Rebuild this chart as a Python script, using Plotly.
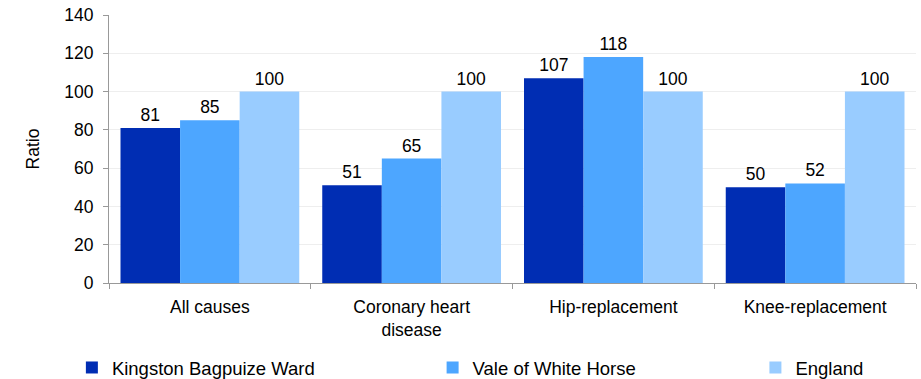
import plotly.graph_objects as go

categories = ["All causes", "Coronary heart<br>disease", "Hip-replacement", "Knee-replacement"]
series_names = ["Kingston Bagpuize Ward", "Vale of White Horse", "England"]
ward_values = [81, 51, 107, 50]
district_values = [85, 65, 118, 52]
england_values = [100, 100, 100, 100]
y_ticks = [0, 20, 40, 60, 80, 100, 120, 140]

colors = ["#002DB3", "#4DA6FF", "#99CCFF"]
font_family = "Liberation Sans, Arial, sans-serif"
fs = 17.5

fig = go.Figure()
legend_ids = ["legend", "legend2", "legend3"]
for name, vals, col, lg in zip(series_names, [ward_values, district_values, england_values], colors, legend_ids):
    fig.add_trace(go.Bar(
        x=categories, y=vals, name=name, marker_color=col, marker_line_width=0,
        text=vals, texttemplate="%{text}", textposition="outside",
        textfont=dict(size=fs, color="#000000", family=font_family),
        cliponaxis=False, legend=lg,
    ))

legend_style = dict(orientation="h", yanchor="middle", y=-0.317, xanchor="left",
                    font=dict(size=18.5, color="#000000", family=font_family),
                    bgcolor="rgba(0,0,0,0)", itemwidth=30)
fig.update_layout(
    width=921, height=379,
    margin=dict(l=109, r=5, t=15, b=96, autoexpand=False),
    paper_bgcolor="white", plot_bgcolor="white",
    barmode="group", bargap=0.114, bargroupgap=0,
    font=dict(family=font_family, size=fs, color="#000000"),
    legend=dict(legend_style, x=-0.046),
    legend2=dict(legend_style, x=0.401),
    legend3=dict(legend_style, x=0.801),
    showlegend=True,
)
fig.update_xaxes(
    showline=True, linecolor="#999999", linewidth=1,
    ticks="outside", tickson="boundaries", ticklen=5, tickcolor="#999999",
    tickfont=dict(size=fs, color="#000000"), showgrid=False,
    ticklabelstandoff=8, automargin=False,
)
fig.update_yaxes(
    range=[0, 140], tickvals=y_ticks,
    showline=True, linecolor="#999999", linewidth=1,
    ticks="outside", ticklen=5, tickcolor="#999999",
    showgrid=True, gridcolor="#EEEEEE", gridwidth=1, zeroline=False,
    tickfont=dict(size=fs, color="#000000"), ticklabelstandoff=6,
    title=dict(text="Ratio", font=dict(size=fs, color="#000000"), standoff=20),
    automargin=False,
)

fig.write_html("out.html")
